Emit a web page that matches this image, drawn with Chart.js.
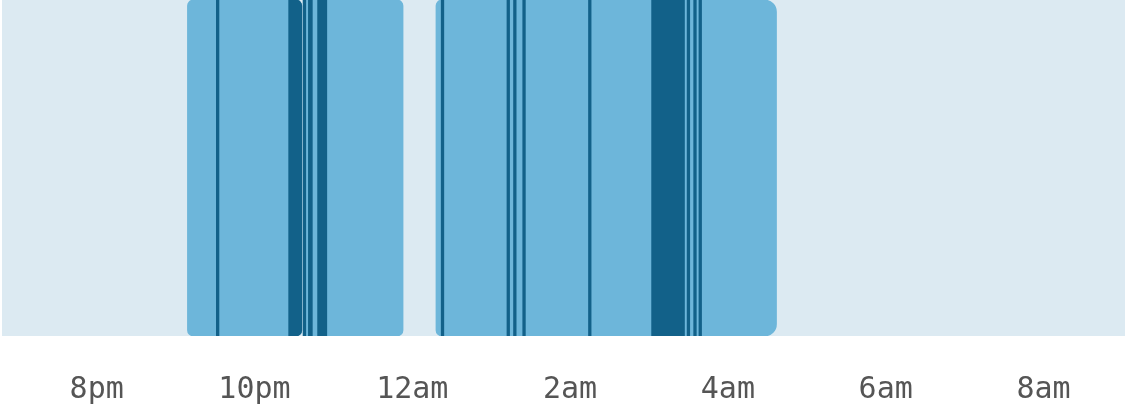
<!DOCTYPE html>
<html>
<head>
<meta charset="utf-8">
<script src="https://cdn.jsdelivr.net/npm/chart.js@4.4.1/dist/chart.umd.min.js"></script>
<style>
  html, body { margin: 0; padding: 0; background: #fff; overflow: hidden; }
  canvas { display: block; }
</style>
</head>
<body>
<canvas id="sleep" width="1125" height="420"></canvas>
<script>
// night window shown on the axis
var axisStart = "18:48";
var axisEnd = "09:02";

// ticks
var tickTimes = ["20:00", "22:00", "00:00", "02:00", "04:00", "06:00", "08:00"];
var tickLabels = ["8pm", "10pm", "12am", "2am", "4am", "6am", "8am"];

// asleep periods
var sleepStart = ["21:09", "22:37", "00:18"];
var sleepEnd   = ["22:36", "23:53", "04:37"];

// awake / restless periods
var wakeStart = ["21:31", "22:26", "22:37", "22:41", "22:48", "00:22", "01:12", "01:17", "01:24", "02:14", "03:02", "03:29", "03:34", "03:38"];
var wakeEnd   = ["21:33", "22:36", "22:39", "22:44", "22:55", "00:24", "01:14", "01:19", "01:26", "02:16", "03:27", "03:31", "03:36", "03:40"];

// "HH:MM" -> minutes, morning hours count as the next day
function toMin(t) {
  var p = t.split(":");
  var h = +p[0], m = +p[1];
  if (h < 12) h += 24;
  return h * 60 + m;
}

function spans(starts, ends) {
  var out = [];
  for (var i = 0; i < starts.length; i++) {
    out.push({ y: "night", x: [toMin(starts[i]), toMin(ends[i])] });
  }
  return out;
}

var ticksMin = tickTimes.map(toMin);

new Chart(document.getElementById("sleep"), {
  type: "bar",
  data: {
    labels: ["night"],
    datasets: [
      {
        label: "awake",
        data: spans(wakeStart, wakeEnd),
        backgroundColor: "#126189",
        borderSkipped: false,
        borderRadius: function (ctx) {
          // the wake spell that closes the first session keeps its rounded end
          if (ctx.dataIndex === 1) return { topLeft: 0, bottomLeft: 0, topRight: 6, bottomRight: 6 };
          return 0;
        }
      },
      {
        label: "asleep",
        data: spans(sleepStart, sleepEnd),
        backgroundColor: "#6db6da",
        borderSkipped: false,
        borderRadius: function (ctx) {
          if (ctx.dataIndex === 1) return { topLeft: 0, bottomLeft: 0, topRight: 6, bottomRight: 6 };
          if (ctx.dataIndex === 2) return { topLeft: 6, bottomLeft: 6, topRight: 12, bottomRight: 12 };
          return 6;
        }
      },
      {
        label: "in bed",
        data: [{ y: "night", x: [toMin(axisStart), toMin(axisEnd)] }],
        backgroundColor: "#dceaf2",
        borderSkipped: false,
        borderRadius: 0
      }
    ]
  },
  options: {
    indexAxis: "y",
    responsive: false,
    animation: false,
    layout: { padding: { left: 2, right: 0, top: 0, bottom: 0 } },
    datasets: {
      bar: { grouped: false, barPercentage: 1, categoryPercentage: 1 }
    },
    plugins: {
      legend: { display: false },
      tooltip: { enabled: false }
    },
    scales: {
      y: { display: false },
      x: {
        type: "linear",
        min: toMin(axisStart),
        max: toMin(axisEnd),
        grid: { display: false, drawTicks: false },
        border: { display: false },
        afterBuildTicks: function (axis) {
          axis.ticks = ticksMin.map(function (v) { return { value: v }; });
        },
        // chart.js counts tick padding twice when fitting, so pin the axis band
        afterFit: function (axis) {
          axis.height = 84;
        },
        ticks: {
          autoSkip: false,
          maxRotation: 0,
          padding: 36,
          color: "#555555",
          font: { family: "'DejaVu Sans Mono', monospace", size: 30 },
          callback: function (value) {
            var i = ticksMin.indexOf(value);
            return i >= 0 ? tickLabels[i] : "";
          }
        }
      }
    }
  }
});
</script>
</body>
</html>
